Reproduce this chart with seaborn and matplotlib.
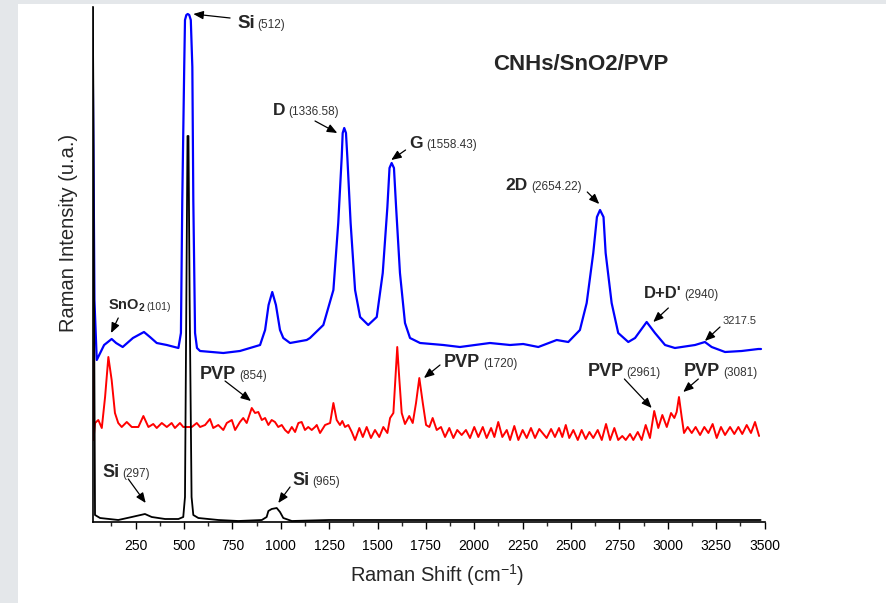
import matplotlib
matplotlib.use("Agg")
import matplotlib.pyplot as plt
import seaborn as sns
import pandas as pd
from matplotlib.ticker import MultipleLocator
from matplotlib.patches import Rectangle

# ---------------- data ----------------
# CNHs/SnO2/PVP spectrum (blue)
blue_x = [27, 32, 37, 49, 87, 126, 149, 183, 236, 293, 324, 359, 411, 471, 484, 491, 501, 505,
          512, 519, 527, 535, 543, 548, 557, 567, 583, 703, 789, 893, 919, 937, 956, 975, 996,
          1013, 1048, 1134, 1151, 1220, 1272, 1297, 1315, 1320, 1328, 1337, 1344, 1361, 1384,
          1410, 1452, 1496, 1527, 1551, 1562, 1573, 1585, 1596, 1616, 1642, 1668, 1720, 1840,
          1926, 2081, 2185, 2253, 2331, 2426, 2486, 2546, 2581, 2615, 2634, 2650, 2668, 2679,
          2710, 2744, 2796, 2831, 2891, 2934, 2986, 3037, 3141, 3192, 3227, 3296, 3382, 3468,
          3482]
blue_y = [484, 372, 222, 162, 177, 183, 179, 175, 184, 190, 185, 179, 177, 174, 189, 322, 455, 502,
          507, 508, 507, 502, 455, 322, 189, 174, 171, 169, 171, 177, 192, 217, 230, 217, 192,
          184, 179, 182, 184, 197, 232, 299, 365, 389, 394, 389, 365, 299, 232,
          205, 197, 205, 249, 315, 354, 359, 354, 315, 249, 199, 184, 179, 177,
          175, 179, 177, 178, 175, 182, 180, 192, 219, 269, 305, 312, 305, 269,
          219, 189, 180, 184, 200, 189, 177, 174, 177, 180, 175, 170, 171, 173,
          173]

# PVP spectrum (red)
red_x = [27, 32, 40, 57, 75, 92, 109, 126, 143, 160,
         178, 204, 230, 264, 290, 316, 341, 359, 385, 411,
         436, 453, 479, 496, 540, 566, 583, 609, 634, 651,
         677, 703, 721, 747, 764, 789, 806, 824, 850, 867,
         884, 902, 919, 936, 953, 970, 987, 1005, 1022, 1039,
         1057, 1074, 1091, 1108, 1125, 1142, 1160, 1177, 1186, 1203,
         1229, 1255, 1272, 1289, 1306, 1318, 1332, 1349, 1367, 1384,
         1406, 1424, 1444, 1466, 1487, 1509, 1530, 1551, 1565, 1582,
         1592, 1602, 1613, 1625, 1642, 1664, 1682, 1699, 1716, 1734,
         1751, 1768, 1785, 1806, 1828, 1849, 1871, 1892, 1912, 1935,
         1957, 1978, 2000, 2021, 2044, 2064, 2087, 2104, 2124, 2145,
         2168, 2185, 2207, 2228, 2250, 2271, 2293, 2314, 2336, 2374,
         2397, 2417, 2438, 2455, 2473, 2491, 2512, 2535, 2555, 2576,
         2595, 2615, 2638, 2659, 2681, 2702, 2724, 2744, 2765, 2783,
         2805, 2822, 2845, 2865, 2886, 2908, 2930, 2951, 2972, 2995,
         3017, 3034, 3046, 3058, 3072, 3084, 3103, 3124, 3144, 3167,
         3189, 3210, 3232, 3253, 3275, 3296, 3322, 3344, 3365, 3385,
         3408, 3430, 3451, 3472]
red_y = [180, 82, 99, 102, 94, 125, 165, 142, 109, 99,
         95, 100, 95, 95, 106, 95, 98, 94, 99, 95,
         99, 94, 99, 95, 95, 99, 95, 97, 103, 94,
         97, 92, 99, 102, 92, 100, 104, 99, 114, 109,
         110, 102, 104, 97, 102, 100, 95, 97, 92, 89,
         95, 90, 99, 100, 92, 95, 92, 95, 97, 89,
         97, 99, 119, 102, 97, 101, 95, 97, 90, 82,
         94, 85, 95, 84, 92, 85, 95, 89, 104, 109,
         142, 175, 142, 109, 98, 106, 99, 119, 144, 119,
         97, 95, 104, 92, 95, 85, 94, 84, 92, 87,
         92, 84, 95, 85, 95, 84, 94, 85, 100, 85,
         92, 82, 96, 82, 92, 84, 94, 84, 93, 84,
         93, 85, 94, 85, 97, 84, 92, 82, 92, 83,
         90, 84, 92, 82, 98, 82, 94, 82, 86, 82,
         88, 82, 90, 82, 97, 84, 111, 94, 107, 95,
         109, 104, 110, 125, 105, 89, 95, 89, 95, 87,
         95, 89, 98, 84, 95, 87, 95, 88, 95, 88,
         97, 89, 100, 86]

# Si substrate spectrum (black)
black_x = [27, 31, 35, 40, 66, 160, 230, 298, 333, 402, 471, 496, 505, 512, 518, 523, 529, 539,
           548, 574, 677, 781, 902, 927, 936, 953, 979, 996, 1013, 1057, 1250, 1500, 1750, 2000,
           2250, 2500, 2750, 3000, 3250, 3480]
black_y = [560, 440, 222, 7, 4, 2, 5, 8, 5, 3, 3, 5, 25, 222, 386, 386, 222, 25,
           7, 4, 2, 1, 2, 5, 11, 13, 14, 10, 4, 1, 2, 2, 2, 2,
           2, 2, 2, 2, 2, 2]

# ---------------- style ----------------
sns.set_style("ticks")
plt.rcParams["font.family"] = ["Liberation Sans", "DejaVu Sans"]
plt.rcParams["mathtext.fontset"] = "custom"
plt.rcParams["mathtext.rm"] = "Liberation Sans"
plt.rcParams["mathtext.bf"] = "Liberation Sans:bold"
plt.rcParams["mathtext.it"] = "Liberation Sans:italic"

W, H = 886, 603
fig = plt.figure(figsize=(W / 100, H / 100), dpi=100, facecolor="#e4e7ea")
fig.patches.append(Rectangle((18 / W, 0), 1, (H - 4) / H, transform=fig.transFigure,
                             facecolor="white", edgecolor="none", zorder=-5))
ax = fig.add_axes([92.5 / W, 81 / H, 672 / W, 515 / H])
ax.set_facecolor("none")

for xs, ys, col, lw in [(blue_x, blue_y, "#0000ff", 1.6),
                        (red_x, red_y, "#ff0000", 1.4),
                        (black_x, black_y, "black", 1.3)]:
    df = pd.DataFrame({"shift": xs, "intensity": ys})
    sns.lineplot(data=df, x="shift", y="intensity", ax=ax, color=col, linewidth=lw,
                 sort=False, estimator=None)

ax.set_xlim(27, 3500)
ax.set_ylim(0, 515)
ax.set_xlabel("")
ax.set_ylabel("")
ax.set_yticks([])
for s in ["top", "right"]:
    ax.spines[s].set_visible(False)
for s in ["left", "bottom"]:
    ax.spines[s].set_linewidth(1.2)
    ax.spines[s].set_color("black")
ax.xaxis.set_major_locator(MultipleLocator(250))
ax.xaxis.set_minor_locator(MultipleLocator(125))
ax.tick_params(axis="x", which="major", direction="out", length=5, width=1, pad=7,
               labelsize=10, bottom=True, colors="black")
ax.tick_params(axis="x", which="minor", direction="out", length=3, width=1, bottom=True)
ax.tick_params(axis="y", left=False)

fig.text(437 / W, (H - 582) / H, r"Raman Shift (cm$^{-1}$)", fontsize=14.5,
         ha="center", va="baseline")
fig.text(68 / W, (H - 233) / H, "Raman Intensity (u.a.)", fontsize=14.5,
         ha="center", va="center", rotation=90)

ax.text(2097, 452, "CNHs/SnO2/PVP", fontsize=16, fontweight="bold", ha="left", va="baseline")

SUBC = "#333333"


def label(main, mx, my, sub, sx, fs=12.5, sfs=8.5):
    ax.text(mx, my, main, fontsize=fs, fontweight="bold", ha="left", va="baseline")
    if sub:
        ax.text(sx, my, sub, fontsize=sfs, color=SUBC, ha="left", va="baseline")


def arrow(tail, tip):
    ax.annotate("", xy=tip, xytext=tail,
                arrowprops=dict(arrowstyle="-|>,head_length=0.6,head_width=0.25",
                                color="black", lw=0.9, shrinkA=0, shrinkB=0))


label("Si", 776, 494, "(512)", 881, fs=13.5)
arrow((738, 504), (548, 508))
label("D", 958, 407, "(1336.58)", 1039)
arrow((1177, 401), (1292, 389))
label("G", 1664, 374, "(1558.43)", 1751)
arrow((1645, 372), (1571, 362))
label("2D", 2159, 332, "(2654.22)", 2293)
arrow((2584, 330), (2646, 318))
label("D+D'", 2879, 224, "(2940)", 3086, fs=12)
arrow((3003, 214), (2925, 200))
ax.text(3282, 198, "3217.5", fontsize=8, color=SUBC, ha="left", va="baseline")
arrow((3270, 195), (3192, 181))
label(r"$\mathbf{SnO_2}$", 106, 212, "(101)", 308, fs=10.5, sfs=7.5)
arrow((160, 204), (123, 189))
label("PVP", 583, 143, "(854)", 784, fs=13)
arrow((712, 141), (846, 121))
label("PVP", 1840, 155, "(1720)", 2044, fs=13)
arrow((1823, 157), (1740, 144))
label("PVP", 2584, 146, "(2961)", 2783, fs=13)
arrow((2776, 143), (2917, 114))
label("PVP", 3084, 146, "(3081)", 3287, fs=13)
arrow((3158, 143), (3080, 130))
label("Si", 78, 45, "(297)", 181, fs=13)
arrow((212, 43), (302, 19))
label("Si", 1060, 37, "(965)", 1165, fs=13)
arrow((1048, 35), (987, 19))

fig.savefig("out.png", dpi=100, facecolor=fig.get_facecolor())
